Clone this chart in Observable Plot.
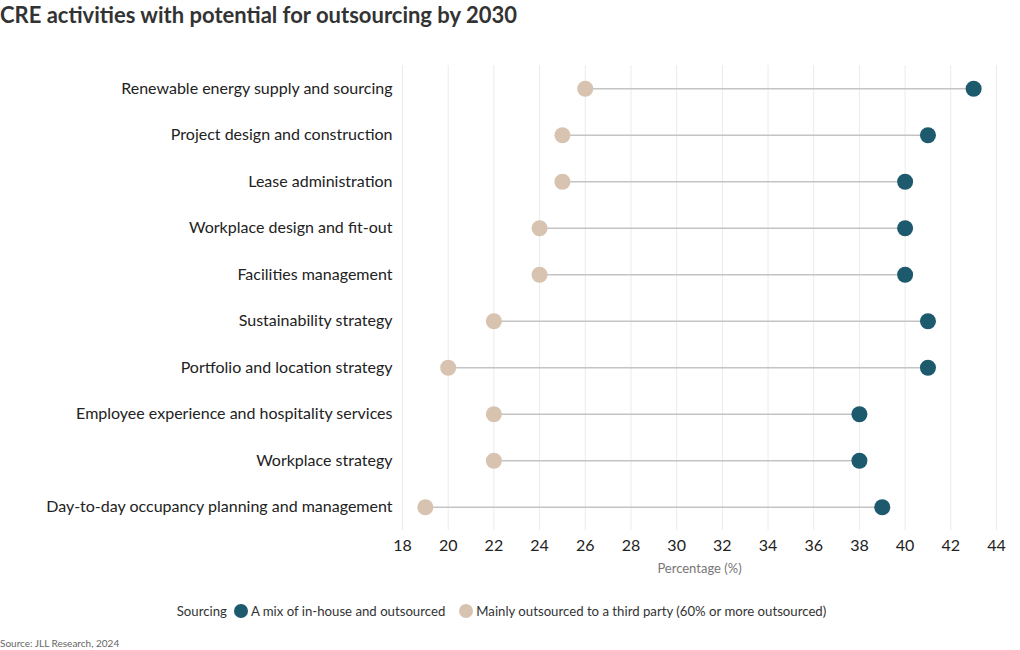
<!DOCTYPE html>
<html>
<head>
<meta charset="utf-8">
<script src="https://cdn.jsdelivr.net/npm/d3@7"></script>
<script src="https://cdn.jsdelivr.net/npm/@observablehq/plot@0.6"></script>
<style>
  body { margin: 0; background: #fff; font-family: Lato, "Noto Sans", sans-serif; color: #333; }
  #wrap { width: 1020px; height: 650px; position: relative; }
  #title { position: absolute; left: 0; top: 1px; font-size: 22px; font-weight: 700; color: #333; }
  #chart { position: absolute; left: 0; top: 40px; }
  #legend { position: absolute; left: 0; width: 1010px; top: 603px; display: flex; justify-content: center; align-items: center; font-size: 13.2px; color: #333; }
  #legend .item { display: flex; align-items: center; margin-left: 7px; margin-right: 7px; }
  #legend .sw { width: 14px; height: 14px; border-radius: 50%; display: inline-block; margin-right: 3px; }
  #source { position: absolute; left: 0; top: 637px; font-size: 10px; color: #666; }
</style>
</head>
<body>
<div id="wrap">
  <div id="title">CRE activities with potential for outsourcing by 2030</div>
  <div id="chart"></div>
  <div id="legend"></div>
  <div id="source">Source: JLL Research, 2024</div>
</div>
<script>
const activities = [
  "Renewable energy supply and sourcing",
  "Project design and construction",
  "Lease administration",
  "Workplace design and fit-out",
  "Facilities management",
  "Sustainability strategy",
  "Portfolio and location strategy",
  "Employee experience and hospitality services",
  "Workplace strategy",
  "Day-to-day occupancy planning and management"
];
const mixValues = [43, 41, 40, 40, 40, 41, 41, 38, 38, 39];
const outsourcedValues = [26, 25, 25, 24, 24, 22, 20, 22, 22, 19];
const seriesNames = ["A mix of in-house and outsourced", "Mainly outsourced to a third party (60% or more outsourced)"];
const seriesColors = ["#1d5a6e", "#d8c3b1"];
const xTicks = [18, 20, 22, 24, 26, 28, 30, 32, 34, 36, 38, 40, 42, 44];

const rows = activities.map((a, i) => ({activity: a, mix: mixValues[i], out: outsourcedValues[i]}));
const dots = [];
activities.forEach((a, i) => {
  dots.push({activity: a, value: outsourcedValues[i], series: seriesNames[1]});
  dots.push({activity: a, value: mixValues[i], series: seriesNames[0]});
});

const chart = Plot.plot({
  width: 1020,
  height: 540,
  marginTop: 25,
  marginBottom: 50,
  marginLeft: 402,
  marginRight: 24,
  style: {fontFamily: "Lato, 'Noto Sans', sans-serif", fontSize: "16px", color: "#222"},
  x: {domain: [18, 44], ticks: xTicks, label: null},
  y: {domain: activities, label: null, round: false},
  color: {domain: seriesNames, range: seriesColors},
  marks: [
    Plot.gridX(xTicks, {stroke: "#ebebeb", strokeOpacity: 1}),
    Plot.ruleY(rows, {y: "activity", x1: "out", x2: "mix", stroke: "#c4c4c4", strokeWidth: 1.3}),
    Plot.dot(dots, {x: "value", y: "activity", fill: "series", r: 8, stroke: null}),
    Plot.axisX(xTicks, {tickSize: 0, tickPadding: 9, fontSize: 16, fill: "#222", label: null}),
    Plot.axisY({tickSize: 0, tickPadding: 10, fontSize: 16, fill: "#222", label: null}),
    Plot.text(["Percentage (%)"], {frameAnchor: "bottom", dy: 42, fontSize: 13, fill: "#777"})
  ]
});
document.getElementById("chart").appendChild(chart);

const legend = document.getElementById("legend");
const lab = document.createElement("span");
lab.textContent = "Sourcing";
lab.style.marginRight = "0px";
legend.appendChild(lab);
seriesNames.forEach((s, i) => {
  const it = document.createElement("span");
  it.className = "item";
  const sw = document.createElement("span");
  sw.className = "sw";
  sw.style.background = seriesColors[i];
  it.appendChild(sw);
  const t = document.createElement("span");
  t.textContent = s;
  it.appendChild(t);
  legend.appendChild(it);
});
</script>
</body>
</html>
